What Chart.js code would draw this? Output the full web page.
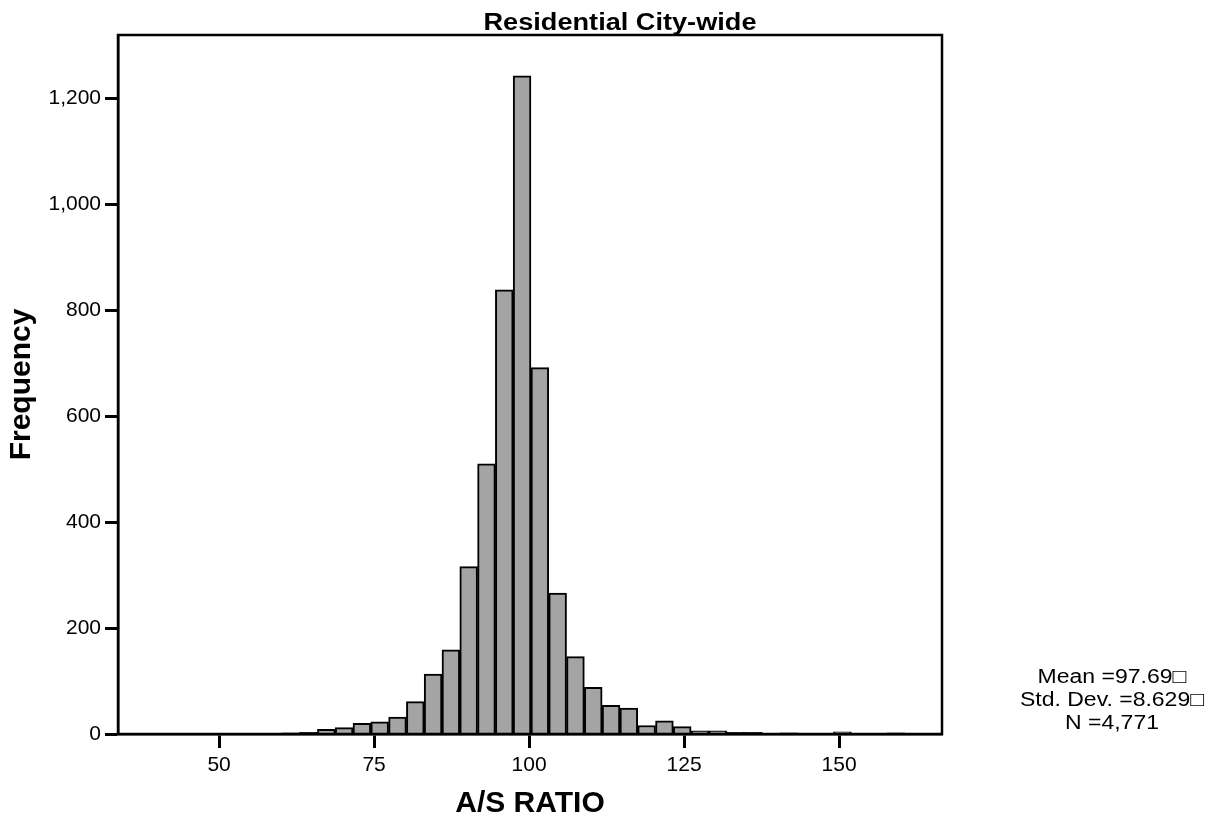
<!DOCTYPE html>
<html>
<head>
<meta charset="utf-8">
<title>Residential City-wide</title>
<script src="https://cdn.jsdelivr.net/npm/chart.js@4/dist/chart.umd.min.js"></script>
<style>
  body { margin: 0; background: #fff; }
  #wrap { width: 1223px; height: 822px; position: relative; }
</style>
</head>
<body>
<div id="wrap"><canvas id="hist"></canvas></div>
<script>
// bin centres (A/S ratio) and counts
const binCenters = [47.21, 50.08, 52.95, 55.82, 58.69, 61.56, 64.43, 67.30, 70.17, 73.04,
  75.91, 78.78, 81.65, 84.52, 87.39, 90.26, 93.13, 96.00, 98.87, 101.74,
  104.61, 107.48, 110.35, 113.22, 116.09, 118.96, 121.83, 124.70, 127.57, 130.44,
  133.31, 136.18, 139.05, 141.92, 144.79, 147.66, 150.53, 153.40, 156.27, 159.14];
const frequency = [1, 1, 1, 1, 1, 2, 3, 9, 12, 20,
  23, 32, 61, 113, 159, 316, 510, 839, 1243, 692,
  266, 146, 88, 54, 49, 16, 25, 14, 6, 6,
  3, 3, 1, 2, 1, 1, 4, 1, 1, 2];

const xTicks = [50, 75, 100, 125, 150];
const yTicks = [0, 200, 400, 600, 800, 1000, 1200];

const chartTitle = 'Residential City-wide';
const statsLines = ['Mean =97.69\u25A1', 'Std. Dev. =8.629\u25A1', 'N =4,771'];

const FONT = '"Liberation Sans", Arial, sans-serif';

// box round the plot, title and the stats note on the right
const overlay = {
  id: 'overlay',
  afterDraw(chart) {
    const ctx = chart.ctx;
    const a = chart.chartArea;
    ctx.save();
    ctx.strokeStyle = '#000';
    ctx.lineWidth = 2.5;
    ctx.strokeRect(a.left, a.top, a.right - a.left, a.bottom - a.top);

    ctx.fillStyle = '#000';
    ctx.textAlign = 'center';
    ctx.textBaseline = 'alphabetic';

    ctx.save();
    ctx.translate(620, 30);
    ctx.scale(1.18, 1);
    ctx.font = 'bold 23px ' + FONT;
    ctx.fillText(chartTitle, 0, 0);
    ctx.restore();

    const baselines = [683, 706, 729];
    statsLines.forEach((line, i) => {
      ctx.save();
      ctx.translate(1112, baselines[i]);
      ctx.scale(1.15, 1);
      ctx.font = '20px ' + FONT;
      ctx.fillText(line, 0, 0);
      ctx.restore();
    });
    ctx.restore();
  }
};

new Chart(document.getElementById('hist'), {
  type: 'bar',
  data: {
    datasets: [{
      data: binCenters.map((x, i) => ({ x: x, y: frequency[i] })),
      backgroundColor: '#a4a4a4',
      borderColor: '#000',
      borderWidth: 2,
      barPercentage: 1,
      categoryPercentage: 1
    }]
  },
  options: {
    responsive: true,
    maintainAspectRatio: false,
    animation: false,
    layout: { padding: { left: 0, right: 281, top: 35, bottom: 0 } },
    plugins: {
      legend: { display: false },
      tooltip: { enabled: false },
      title: { display: false }
    },
    scales: {
      x: {
        type: 'linear',
        min: 33.7,
        max: 166.6,
        offset: false,
        afterFit: (s) => { s.height = 88; },
        afterBuildTicks: (s) => { s.ticks = xTicks.map(v => ({ value: v })); },
        grid: { display: true, drawOnChartArea: false, offset: false, tickLength: 14, tickWidth: 3, tickColor: '#000' },
        border: { display: true, color: '#000', width: 2.5 },
        ticks: { color: '#000', font: { family: FONT, size: 21 }, padding: 5, maxRotation: 0, minRotation: 0 },
        title: { display: true, text: 'A/S RATIO', color: '#000', font: { family: FONT, size: 30, weight: 'bold' }, padding: 0 }
      },
      y: {
        min: 0,
        max: 1320,
        afterFit: (s) => { s.width = 118; },
        afterBuildTicks: (s) => { s.ticks = yTicks.map(v => ({ value: v })); },
        grid: { display: true, drawOnChartArea: false, tickLength: 13, tickWidth: 3, tickColor: '#000' },
        border: { display: true, color: '#000', width: 2.5 },
        ticks: {
          color: '#000',
          font: { family: FONT, size: 21 },
          padding: 4,
          callback: (v) => v.toLocaleString('en-US')
        },
        title: { display: true, text: 'Frequency', color: '#000', font: { family: FONT, size: 30, weight: 'bold' }, padding: { top: 4, bottom: 0 } }
      }
    }
  },
  plugins: [overlay]
});
</script>
</body>
</html>
